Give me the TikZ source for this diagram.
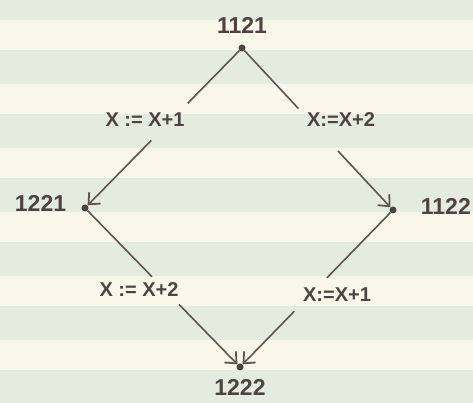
\documentclass[tikz,border=0pt]{standalone}
\usepackage{fontspec}
\setmainfont{Liberation Sans}
\usepackage{tikz}
\usetikzlibrary{arrows.meta, positioning}
\definecolor{papergreen}{HTML}{E4ECDF}
\definecolor{papercream}{HTML}{F8F7EA}
\definecolor{inkgrey}{HTML}{4E4340}
\definecolor{pencil}{HTML}{5E5450}

\begin{document}
\begin{tikzpicture}[
    x=1pt, y=1pt,
    node distance=12pt,
    dot/.style={
        circle, fill=inkgrey, inner sep=0pt, minimum size=7pt,
    },
    num/.style={
        inner sep=0pt, text=inkgrey,
        font=\fontsize{23}{26}\selectfont\bfseries,
    },
    assign/.style={
        inner sep=0pt, text=inkgrey,
        font=\fontsize{20}{24}\selectfont\bfseries,
    },
    line/.style={
        draw=pencil, line width=1.6pt,
    },
    arr/.style={
        line, -{Straight Barb[length=9pt, width=16pt, line width=1.8pt]}
    },
]
% lined paper
\useasboundingbox (0,0) rectangle (473,403);
\fill[papergreen] (0,0) rectangle (473,403);
\foreach \k in {0,...,5}
    \fill[papercream] (0,{353-64*\k}) rectangle (473,{383-64*\k});

% states
\node[dot] (t) at (242,355) {};
\node[dot] (l) at (85,195) {};
\node[dot] (r) at (393,193) {};
\node[dot] (b) at (240,36) {};

\node[num, above=11pt of t] (tlab) {1121};
\node[num, left=15pt of l, yshift=5pt] (llab) {1221};
\node[num, right=24pt of r, yshift=4pt] (rlab) {1122};
\node[num, below=9pt of b] (blab) {1222};

% assignments
\node[assign] (a1) at (145,283) {X := X+1};
\node[assign] (a2) at (341,283) {X:=X+2};
\node[assign] (a3) at (139,113) {X := X+2};
\node[assign] (a4) at (337,108) {X:=X+1};

% gaps round the assignments
\path (t) -- coordinate[pos=0.34] (tl1) coordinate[pos=0.58] (tl2) (l);
\path (t) -- coordinate[pos=0.37] (tr1) coordinate[pos=0.64] (tr2) (r);
\path (l) -- coordinate[pos=0.43] (lb1) coordinate[pos=0.61] (lb2) (b);
\path (r) -- coordinate[pos=0.43] (rb1) coordinate[pos=0.65] (rb2) (b);

\draw[line] (t) -- (tl1);
\draw[arr] (tl2) -- (l);
\draw[line] (t) -- (tr1);
\draw[arr] (tr2) -- (r);
\draw[line] (l) -- (lb1);
\draw[arr] (lb2) -- (b);
\draw[line] (r) -- (rb1);
\draw[arr] (rb2) -- (b);
\end{tikzpicture}
\end{document}
